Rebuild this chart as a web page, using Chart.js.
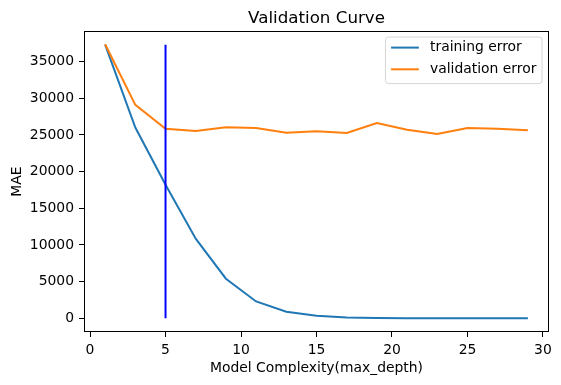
<!DOCTYPE html>
<html><head><meta charset="utf-8">
<script src="https://cdn.jsdelivr.net/npm/chart.js@4/dist/chart.umd.min.js"></script>
<style>html,body{margin:0;padding:0;background:#fff;}#wrap{width:561px;height:385px;}</style>
</head><body><div id="wrap"><canvas id="c" width="561" height="385"></canvas></div>
<script>
const maxDepth = [1, 3, 5, 7, 9, 11, 13, 15, 17, 19, 21, 23, 25, 27, 29];
const trainingError = [37300, 26000, 18200, 10850, 5400, 2300, 900, 350, 120, 40, 15, 8, 5, 5, 5];
const validationError = [37350, 29100, 25850, 25540, 26030, 25950, 25300, 25490, 25270, 26630, 25700, 25130, 25950, 25850, 25620];
const xTicks = [0, 5, 10, 15, 20, 25, 30];
const yTicks = [0, 5000, 10000, 15000, 20000, 25000, 30000, 35000];
const chosenDepth = 5;
const chosenLineY = [0, 37300];
const seriesLabels = ['training error', 'validation error'];
const chartTitle = 'Validation Curve';
const xTitle = 'Model Complexity(max_depth)';
const yTitle = 'MAE';

const FONT = "'DejaVu Sans', sans-serif";
const FS = 13.9;
const toPts = (xs, ys) => xs.map((x, i) => ({x: x, y: ys[i]}));

const framePlugin = {
  id: 'frame',
  afterDraw(chart) {
    const {ctx, chartArea: a} = chart;
    ctx.save();
    ctx.strokeStyle = '#000';
    ctx.lineWidth = 1;
    ctx.strokeRect(Math.round(a.left) + 0.5, Math.round(a.top) + 0.5,
      Math.round(a.right) - Math.round(a.left) - 1, Math.round(a.bottom) - Math.round(a.top) - 1);
    // title centred over the axes
    ctx.fillStyle = '#000';
    ctx.font = '16.7px ' + FONT;
    ctx.textAlign = 'center';
    ctx.textBaseline = 'alphabetic';
    ctx.fillText(chartTitle, (a.left + a.right) / 2, a.top - 8.3);
    ctx.restore();
  }
};

const legendPlugin = {
  id: 'mplLegend',
  afterDraw(chart) {
    const {ctx, chartArea: a} = chart;
    const ds = chart.data.datasets.slice(0, 2);
    ctx.save();
    ctx.font = FS + 'px ' + FONT;
    const tw = Math.max(...ds.map(d => ctx.measureText(d.label).width));
    const right = a.right - 7, top = a.top + 6;
    const padR = 5.6, gap = 11.1, handle = 27.8, padL = 5.6;
    const w = padL + handle + gap + tw + padR;
    const h = 46.6;
    const left = right - w;
    const r = 3;
    ctx.beginPath();
    ctx.moveTo(left + r, top);
    ctx.lineTo(right - r, top); ctx.arcTo(right, top, right, top + r, r);
    ctx.lineTo(right, top + h - r); ctx.arcTo(right, top + h, right - r, top + h, r);
    ctx.lineTo(left + r, top + h); ctx.arcTo(left, top + h, left, top + h - r, r);
    ctx.lineTo(left, top + r); ctx.arcTo(left, top, left + r, top, r);
    ctx.closePath();
    ctx.fillStyle = 'rgba(255,255,255,0.8)';
    ctx.fill();
    ctx.strokeStyle = '#d6d6d6';
    ctx.lineWidth = 1;
    ctx.stroke();
    ds.forEach((d, i) => {
      const cy = top + 10.6 + i * 21.7;
      ctx.beginPath();
      ctx.moveTo(left + padL, cy);
      ctx.lineTo(left + padL + handle, cy);
      ctx.strokeStyle = d.borderColor;
      ctx.lineWidth = 2;
      ctx.stroke();
      ctx.fillStyle = '#000';
      ctx.textBaseline = 'middle';
      ctx.textAlign = 'left';
      ctx.fillText(d.label, left + padL + handle + gap, cy);
    });
    ctx.restore();
  }
};

const tickStyle = {color: '#000', font: {family: FONT, size: FS}, padding: 5};
const gridStyle = {drawOnChartArea: false, drawTicks: true, tickLength: 5, color: '#000', lineWidth: 1};

new Chart(document.getElementById('c'), {
  type: 'line',
  data: {
    datasets: [
      {label: seriesLabels[0], data: toPts(maxDepth, trainingError), borderColor: '#1f77b4', backgroundColor: '#1f77b4', borderWidth: 2, pointRadius: 0, tension: 0, order: 3},
      {label: seriesLabels[1], data: toPts(maxDepth, validationError), borderColor: '#ff7f0e', backgroundColor: '#ff7f0e', borderWidth: 2, pointRadius: 0, tension: 0, order: 2},
      {label: 'chosen depth', data: chosenLineY.map(y => ({x: chosenDepth, y: y})), borderColor: '#0000ff', backgroundColor: '#0000ff', borderWidth: 2, pointRadius: 0, order: 1}
    ]
  },
  options: {
    responsive: false,
    animation: false,
    devicePixelRatio: 1,
    layout: {padding: {left: 0, right: 12, top: 31, bottom: 0}},
    plugins: {
      legend: {display: false},
      tooltip: {enabled: false},
      title: {display: false}
    },
    scales: {
      x: {
        type: 'linear', min: -0.4, max: 30.4,
        afterFit(s) { s.height = 53; },
        afterBuildTicks(s) { s.ticks = xTicks.map(v => ({value: v})); },
        ticks: Object.assign({callback: v => String(v), maxRotation: 0, autoSkip: false}, tickStyle),
        grid: gridStyle,
        border: {display: false},
        title: {display: true, text: xTitle, color: '#000', font: {family: FONT, size: FS, lineHeight: 1.2}, padding: {top: 0, bottom: 8.7}}
      },
      y: {
        type: 'linear', min: -1865, max: 39165,
        afterFit(s) { s.width = 84; },
        afterBuildTicks(s) { s.ticks = yTicks.map(v => ({value: v})); },
        ticks: Object.assign({callback: v => String(v), autoSkip: false}, tickStyle),
        grid: gridStyle,
        border: {display: false},
        title: {display: true, text: yTitle, color: '#000', font: {family: FONT, size: FS, lineHeight: 1.2}, padding: {top: 9.4, bottom: 0}}
      }
    }
  },
  plugins: [framePlugin, legendPlugin]
});
</script></body></html>
